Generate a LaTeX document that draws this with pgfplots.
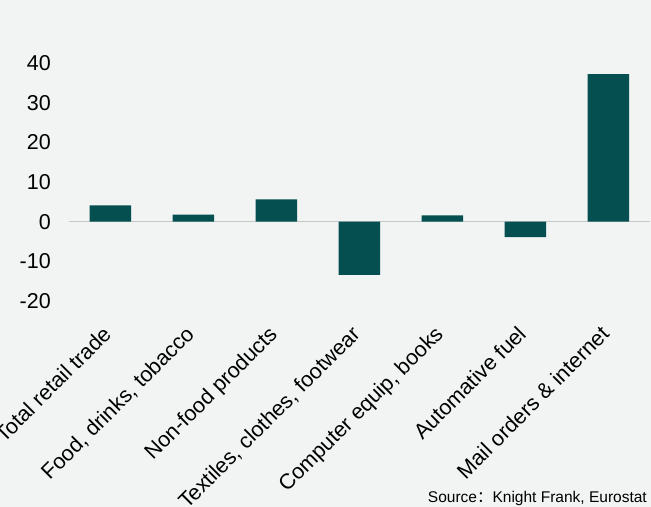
\documentclass[border=0pt]{standalone}
\usepackage{pgfplots}
\pgfplotsset{compat=1.18}
\usepackage{fontspec}
\setmainfont{Liberation Sans}
\newfontfamily\cjk{Noto Sans CJK SC}
\definecolor{bgcol}{HTML}{F1F4F3}
\definecolor{barcol}{HTML}{054F50}
\definecolor{zerocol}{HTML}{C4C8C7}

\begin{document}
\begin{tikzpicture}
\fill[bgcol] (-69bp,-206bp) rectangle (582bp,301bp);
\useasboundingbox (-69bp,-206bp) rectangle (582bp,301bp);
\begin{axis}[
    scale only axis,
    width=581bp, height=238bp,
    xmin=-0.5, xmax=6.5,
    ymin=-20, ymax=40,
    ybar, bar width=41.5bp,
    axis line style={draw=none},
    major tick style={draw=none},
    ytick={-20,-10,0,10,20,30,40},
    xtick={0,1,2,3,4,5,6},
    xticklabels={Total retail trade, {Food, drinks, tobacco}, Non-food products,
                 {Textiles, clothes, footwear}, {Computer equip, books},
                 Automative fuel, Mail orders \& internet},
    xticklabel style={rotate=45, anchor=north east, font=\fontsize{21.5bp}{23bp}\selectfont,
                      inner sep=0pt, xshift=-20bp, yshift=-7bp},
    yticklabel style={font=\fontsize{21.5bp}{24bp}\selectfont, inner sep=0pt, xshift=-18bp},
    /pgf/number format/assume math mode=true,
    extra y ticks={0},
    extra y tick labels={},
    extra y tick style={ymajorgrids=true, major grid style={zerocol, line width=1.3bp}},
    clip=false,
]
\addplot[fill=barcol, draw=none] coordinates {
(0, 4.1)
(1, 1.8)
(2, 5.6)
(3, -13.4)
(4, 1.6)
(5, -3.9)
(6, 37.2)
};
\end{axis}
\node[anchor=base east, inner sep=0pt, font=\fontsize{15.5bp}{17bp}\selectfont]
  at (578bp,-201bp) {Source{\cjk ：}Knight Frank, Eurostat};
\end{tikzpicture}
\end{document}
